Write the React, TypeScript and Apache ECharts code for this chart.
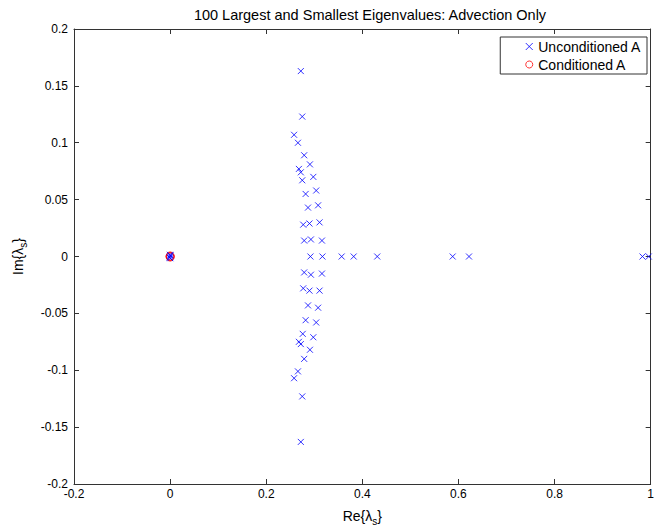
import React, { useEffect, useRef } from "react";
import * as echarts from "echarts";

// Eigenvalues of the unconditioned advection operator (real, imaginary parts)
const unconditionedRe = [
  0.272, 0.275, 0.258, 0.266, 0.279, 0.291, 0.268, 0.272, 0.298, 0.275,
  0.304, 0.282, 0.308, 0.287, 0.277, 0.29, 0.311, 0.279, 0.293, 0.316,
  0.292, 0.317, 0.357, 0.382, 0.431, 0.588, 0.622, 0.983, 0.996,
  0.279, 0.293, 0.316, 0.277, 0.29, 0.311, 0.287, 0.308, 0.282, 0.304,
  0.276, 0.298, 0.268, 0.272, 0.291, 0.279, 0.266, 0.258, 0.275, 0.272,
  0, 0.001, -0.001, 0.0005, -0.0005,
];
const unconditionedIm = [
  0.163, 0.123, 0.107, 0.1, 0.089, 0.081, 0.077, 0.074, 0.07, 0.067,
  0.058, 0.055, 0.045, 0.043, 0.028, 0.029, 0.03, 0.014, 0.015, 0.014,
  0, 0, 0, 0, 0, 0, 0, 0, 0,
  -0.014, -0.016, -0.015, -0.028, -0.03, -0.03, -0.043, -0.045, -0.056, -0.058,
  -0.068, -0.071, -0.075, -0.077, -0.082, -0.09, -0.101, -0.107, -0.123, -0.163,
  0, 0.001, -0.001, -0.0015, 0.0015,
];

// Eigenvalues after conditioning all collapse to the origin
const conditionedRe = [0, 0, 0];
const conditionedIm = [0, 0.0005, -0.0005];

const xTicks = { min: -0.2, max: 1, interval: 0.2 };
const yTicks = { min: -0.2, max: 0.2, interval: 0.05 };

const FONT = "'Liberation Sans', Arial, sans-serif";
const AXIS_COLOR = "#333333";
const CROSS = "path://M0,0L10,10M10,0L0,10";

const fmt = (v: number) => String(+v.toFixed(2));

export default function App() {
  const ref = useRef<HTMLDivElement>(null);

  useEffect(() => {
    if (!ref.current) return;
    const chart = echarts.init(ref.current, null, { renderer: "svg" });

    const unconditioned = unconditionedRe.map((re, i) => [re, unconditionedIm[i]]);
    const conditioned = conditionedRe.map((re, i) => [re, conditionedIm[i]]);

    const tickStyle = {
      show: true,
      inside: true,
      length: 5,
      lineStyle: { color: AXIS_COLOR, width: 1 },
    };
    const lineStyle = { show: true, onZero: false, lineStyle: { color: AXIS_COLOR, width: 1 } };
    const nameStyle = {
      fontFamily: FONT,
      fontSize: 14,
      color: "#000",
      rich: { s: { fontSize: 10, fontFamily: FONT, color: "#000", padding: [10, 0, 0, 0] } },
    };

    chart.setOption({
      animation: false,
      backgroundColor: "#ffffff",
      textStyle: { fontFamily: FONT },
      title: {
        text: "100 Largest and Smallest Eigenvalues: Advection Only",
        left: 365,
        top: 2,
        textAlign: "center",
        textStyle: { fontFamily: FONT, fontSize: 14.5, fontWeight: "normal", color: "#000" },
      },
      grid: { left: 74, right: 1, top: 29, bottom: 44, containLabel: false },
      legend: {
        orient: "vertical",
        right: 10,
        top: 37,
        padding: [2, 6, 2, 23],
        itemGap: 3,
        itemWidth: 8,
        itemHeight: 7,
        borderColor: AXIS_COLOR,
        borderWidth: 1,
        backgroundColor: "#fff",
        textStyle: { fontFamily: FONT, fontSize: 14, color: "#000", lineHeight: 15 },
        data: [
          { name: "Unconditioned A", icon: CROSS, itemStyle: { borderWidth: 1 } },
          { name: "Conditioned A", icon: "circle", itemStyle: { borderWidth: 1 } },
        ],
      },
      xAxis: [
        {
          type: "value",
          ...xTicks,
          position: "bottom",
          axisLine: lineStyle,
          axisTick: tickStyle,
          splitLine: { show: false },
          axisLabel: { margin: 4, fontSize: 12, color: "#000", fontFamily: FONT, formatter: fmt },
          name: "Re{λ{s|s}}",
          nameLocation: "middle",
          nameGap: 22,
          nameTextStyle: nameStyle,
        },
        {
          type: "value",
          ...xTicks,
          position: "top",
          axisLine: lineStyle,
          axisTick: tickStyle,
          splitLine: { show: false },
          axisLabel: { show: false },
        },
      ],
      yAxis: [
        {
          type: "value",
          ...yTicks,
          position: "left",
          axisLine: lineStyle,
          axisTick: tickStyle,
          splitLine: { show: false },
          axisLabel: { margin: 6, fontSize: 12, color: "#000", fontFamily: FONT, formatter: fmt },
          name: "Im{λ{s|s}}",
          nameLocation: "middle",
          nameGap: 46,
          nameRotate: 90,
          nameTextStyle: nameStyle,
        },
        {
          type: "value",
          ...yTicks,
          position: "right",
          axisLine: lineStyle,
          axisTick: tickStyle,
          splitLine: { show: false },
          axisLabel: { show: false },
        },
      ],
      series: [
        {
          name: "Unconditioned A",
          type: "scatter",
          xAxisIndex: 0,
          yAxisIndex: 0,
          symbol: CROSS,
          symbolSize: 6,
          itemStyle: { color: "none", borderColor: "#0000ff", borderWidth: 1, opacity: 0.8 },
          data: unconditioned,
          z: 3,
        },
        {
          name: "Conditioned A",
          type: "scatter",
          xAxisIndex: 0,
          yAxisIndex: 0,
          symbol: "circle",
          symbolSize: 8,
          itemStyle: { color: "none", borderColor: "#ff0000", borderWidth: 1 },
          data: conditioned,
          z: 2,
        },
      ],
    });

    return () => chart.dispose();
  }, []);

  return (
    <div
      ref={ref}
      style={{ position: "fixed", left: 0, top: 0, width: 657, height: 531, background: "#fff" }}
    />
  );
}
